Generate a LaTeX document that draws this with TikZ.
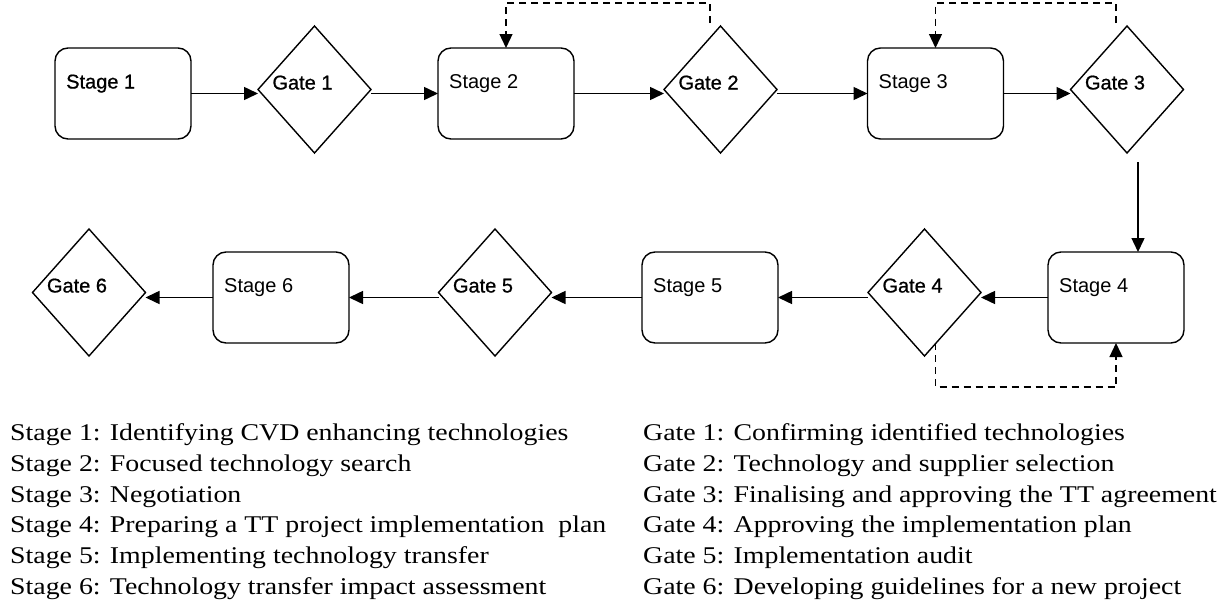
\documentclass[tikz,border=0pt]{standalone}
\usepackage{fontspec}
\setmainfont{Liberation Serif}
\newfontfamily\diagfont{Liberation Sans}
\newfontfamily\diagdark[FakeBold=0.8]{Liberation Sans}
\usetikzlibrary{shapes.geometric,arrows.meta,calc}
\begin{document}
\begin{tikzpicture}[x=1pt,y=-1pt,
  stagebox/.style={draw, line width=1.4pt, rounded corners=13pt, minimum width=136pt, minimum height=91pt, inner sep=0pt, outer sep=0pt},
  gatebox/.style={draw, diamond, line width=1.4pt, minimum width=113pt, minimum height=127pt, inner sep=0pt, outer sep=0pt},
  lbl/.style={font=\diagfont\fontsize{20}{24}\selectfont, inner sep=0pt, anchor=base west},
  lbldark/.style={font=\diagdark\fontsize{20}{24}\selectfont, inner sep=0pt},
  flow/.style={line width=1.5pt, -{Triangle[length=14pt,width=13pt]}},
  back/.style={line width=1.3pt, dash pattern=on 7pt off 5pt, -{Triangle[length=14pt,width=13pt]}},
  legend/.style={font=\fontsize{24}{28}\selectfont, inner sep=0pt, anchor=base west},
]
\useasboundingbox (0,0) rectangle (1226,613);

% top row
\node[stagebox] (s1) at (123,93.5) {};
\node[gatebox]  (g1) at (314.5,89.5) {};
\node[stagebox] (s2) at (506,93.5) {};
\node[gatebox]  (g2) at (720.5,89.5) {};
\node[stagebox] (s3) at (935.5,93.5) {};
\node[gatebox]  (g3) at (1127,89.5) {};
% bottom row
\node[stagebox] (s4) at (1116,297.5) {};
\node[gatebox]  (g4) at (924.5,292.5) {};
\node[stagebox] (s5) at (710,297.5) {};
\node[gatebox]  (g5) at (495,292.5) {};
\node[stagebox] (s6) at (281,297.5) {};
\node[gatebox]  (g6) at (89,292.5) {};

% labels
\node[lbldark, anchor=base west] (ts1) at ($(s1.center)+(-57,-5)$) {Stage 1};
\node[lbl] (ts2) at ($(s2.center)+(-57,-5)$) {Stage 2};
\node[lbl] (ts3) at ($(s3.center)+(-57,-5)$) {Stage 3};
\node[lbl] (ts4) at ($(s4.center)+(-57,-5.5)$) {Stage 4};
\node[lbl] (ts5) at ($(s5.center)+(-57,-5.5)$) {Stage 5};
\node[lbl] (ts6) at ($(s6.center)+(-57,-5.5)$) {Stage 6};
\node[lbldark, anchor=base] (tg1) at ($(g1.center)+(-12,0)$) {Gate 1};
\node[lbldark, anchor=base] (tg2) at ($(g2.center)+(-12,0)$) {Gate 2};
\node[lbldark, anchor=base] (tg3) at ($(g3.center)+(-12,0)$) {Gate 3};
\node[lbldark, anchor=base] (tg4) at ($(g4.center)+(-12,0)$) {Gate 4};
\node[lbldark, anchor=base] (tg5) at ($(g5.center)+(-12,0)$) {Gate 5};
\node[lbldark, anchor=base] (tg6) at ($(g6.center)+(-12,0)$) {Gate 6};

% forward flow
\draw[flow] (s1.east) -- (s1.east -| g1.west);
\draw[flow] (s2.west -| g1.east) -- (s2.west);
\draw[flow] (s2.east) -- (s2.east -| g2.west);
\draw[flow] (s3.west -| g2.east) -- (s3.west);
\draw[flow] (s3.east) -- (s3.east -| g3.west);
\coordinate (g3out) at ($(g3.south)+(11,9)$);
\draw[flow] (g3out) -- (g3out |- s4.north);
\draw[flow] (s4.west) -- (s4.west -| g4.east);
\draw[flow] (s5.east -| g4.west) -- (s5.east);
\draw[flow] (s5.west) -- (s5.west -| g5.east);
\draw[flow] (s6.east -| g5.west) -- (s6.east);
\draw[flow] (s6.west) -- (s6.west -| g6.east);

% feedback loops
\coordinate (d2) at ($(g2.north)+(-10.5,-3)$);
\draw[back] (d2) -- ++(0,-20) -| (s2.north);
\coordinate (d3) at ($(g3.north)+(-11,-3)$);
\draw[back] (d3) -- ++(0,-20) -| (s3.north);
\coordinate (d4) at ($(g4.south)+(11,-13)$);
\draw[back] (d4) -- ++(0,44) -| (s4.south);

% legend
\node[legend] (l1) at (10,440) {\scalebox{1.16}[1]{Stage 1: Identifying CVD enhancing technologies}};
\node[legend] (l2) at (10,471) {\scalebox{1.16}[1]{Stage 2: Focused technology search}};
\node[legend] (l3) at (10,502) {\scalebox{1.16}[1]{Stage 3: Negotiation}};
\node[legend] (l4) at (10,532) {\scalebox{1.16}[1]{Stage 4: Preparing a TT project implementation~ plan}};
\node[legend] (l5) at (10,563) {\scalebox{1.16}[1]{Stage 5: Implementing technology transfer}};
\node[legend] (l6) at (10,594) {\scalebox{1.16}[1]{Stage 6: Technology transfer impact assessment}};
\node[legend] (m1) at (643,440) {\scalebox{1.16}[1]{Gate 1: Confirming identified technologies}};
\node[legend] (m2) at (643,471) {\scalebox{1.16}[1]{Gate 2: Technology and supplier selection}};
\node[legend] (m3) at (643,502) {\scalebox{1.16}[1]{Gate 3: Finalising and approving the TT agreement}};
\node[legend] (m4) at (643,532) {\scalebox{1.16}[1]{Gate 4: Approving the implementation plan}};
\node[legend] (m5) at (643,563) {\scalebox{1.16}[1]{Gate 5: Implementation audit}};
\node[legend] (m6) at (643,594) {\scalebox{1.16}[1]{Gate 6: Developing guidelines for a new project}};
\end{tikzpicture}
\end{document}
